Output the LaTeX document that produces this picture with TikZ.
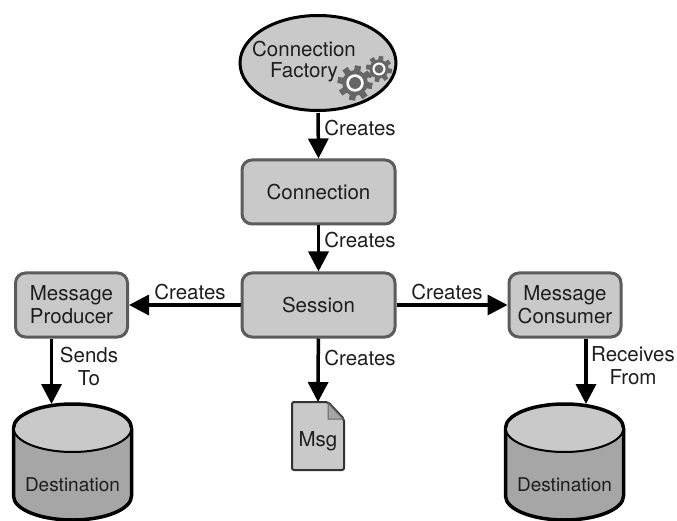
\documentclass[tikz,border=0pt]{standalone}
\usepackage{fontspec}
\setmainfont{TeX Gyre Heros}
\usetikzlibrary{arrows.meta,shapes.geometric}
\definecolor{lightfill}{HTML}{C9C9C9}
\definecolor{darkfill}{HTML}{A6A6A6}
\definecolor{boxedge}{HTML}{5C5C5C}
\definecolor{geargrey}{HTML}{666666}
\definecolor{inktext}{HTML}{1E1E1E}
\tikzset{
  txt/.style={font=\fontsize{20.5}{23}\selectfont, text=inktext, align=center, inner sep=0pt},
  objbox/.style={draw=boxedge, fill=lightfill, rounded corners=10pt, line width=3pt, txt},
  conn/.style={line width=3.5pt, -{Triangle[width=20pt,length=20pt]}},
}
\newcommand{\gearwheel}[4]{% x, y, outer radius, hub colour
  \fill[geargrey] (#1,#2) circle(#3*0.74);
  \foreach \a in {0,45,...,315}
    \draw[geargrey, line width=#3*0.36pt] (#1,#2) ++(\a+10:#3*0.6) -- ++(\a+10:#3*0.4);
  \fill[white] (#1,#2) circle(#3*0.5);
  \fill[#4] (#1,#2) circle(#3*0.34);
}
\newcommand{\destdrum}[5]{% name, x (centre), y (top ellipse centre), label y, arrow offset
  \filldraw[fill=darkfill, line width=3.5pt] (#2-59,#3) -- (#2-59,#3+68) arc(180:0:59 and 24) -- (#2+59,#3);
  \filldraw[fill=lightfill, line width=2pt] (#2,#3) ellipse(59 and 24);
  \draw[line width=3.5pt] (#2-59,#3) arc(180:360:59 and 24);
  \node[txt, font=\fontsize{19}{22}\selectfont] (#1) at (#2,#4) {Destination};
  \coordinate (#1top) at (#2+#5,#3-24);
}
\begin{document}
\begin{tikzpicture}[x=1pt,y=-1pt]
  \useasboundingbox[fill=white] (0,0) rectangle (677,521);
  % factory
  \node [draw, ellipse, fill=lightfill, line width=3pt, minimum width=156pt, minimum height=95pt, inner sep=0pt] (factory) at (318,63) {};
  \node [txt, font=\fontsize{20.5}{21}\selectfont] (factorytext) at (304,62) {Connection\\Factory};
  \gearwheel{355}{83}{17.5}{geargrey}
  \gearwheel{379}{69}{13}{geargrey}
  % boxes
  \node [objbox, minimum width=153pt, minimum height=64pt] (connection) at (318.5,192) {Connection};
  \node [objbox, minimum width=153pt, minimum height=64pt] (session) at (318.5,305) {Session};
  \node [objbox, minimum width=112pt, minimum height=64pt] (producer) at (71.5,305) {Message\\Producer};
  \node [objbox, minimum width=112pt, minimum height=64pt] (consumer) at (565,305) {Message\\Consumer};
  % stores
  \destdrum{destleft}{72.5}{428}{485}{-21}
  \destdrum{destright}{564.5}{428}{485}{21.5}
  % msg
  \filldraw[draw=black!80, fill=lightfill, line width=2pt, rounded corners=2pt] (292,402) -- (328,402) -- (344,419) -- (344,470) -- (292,470) -- cycle;
  \filldraw[draw=black!60, fill=darkfill, line width=1pt] (328,403) -- (343,419) -- (328,419) -- cycle;
  \node [txt] (msg) at (318,441) {Msg};
  \coordinate (msgtop) at (318,402);
  % arrows
  \draw[conn] (factory.south) ++(0,-1pt) -- (connection.north);
  \draw[conn] (connection) -- (session);
  \draw[conn] (session) -- (producer);
  \draw[conn] (session) -- (consumer);
  \draw[conn] (session) -- (msgtop);
  \draw[conn] (producer.south -| destlefttop) -- (destlefttop);
  \draw[conn] (consumer.south -| destrighttop) -- (destrighttop);
  % labels
  \node [txt] (lblfactory) at (360,128) {Creates};
  \node [txt] (lblconnection) at (360,240) {Creates};
  \node [txt] (lblproducer) at (190,292) {Creates};
  \node [txt] (lblconsumer) at (447,292) {Creates};
  \node [txt] (lblmsg) at (360,358) {Creates};
  \node [txt] (lblsends) at (89,366) {Sends\\To};
  \node [txt] (lblreceives) at (633,366) {Receives\\From};
\end{tikzpicture}
\end{document}
